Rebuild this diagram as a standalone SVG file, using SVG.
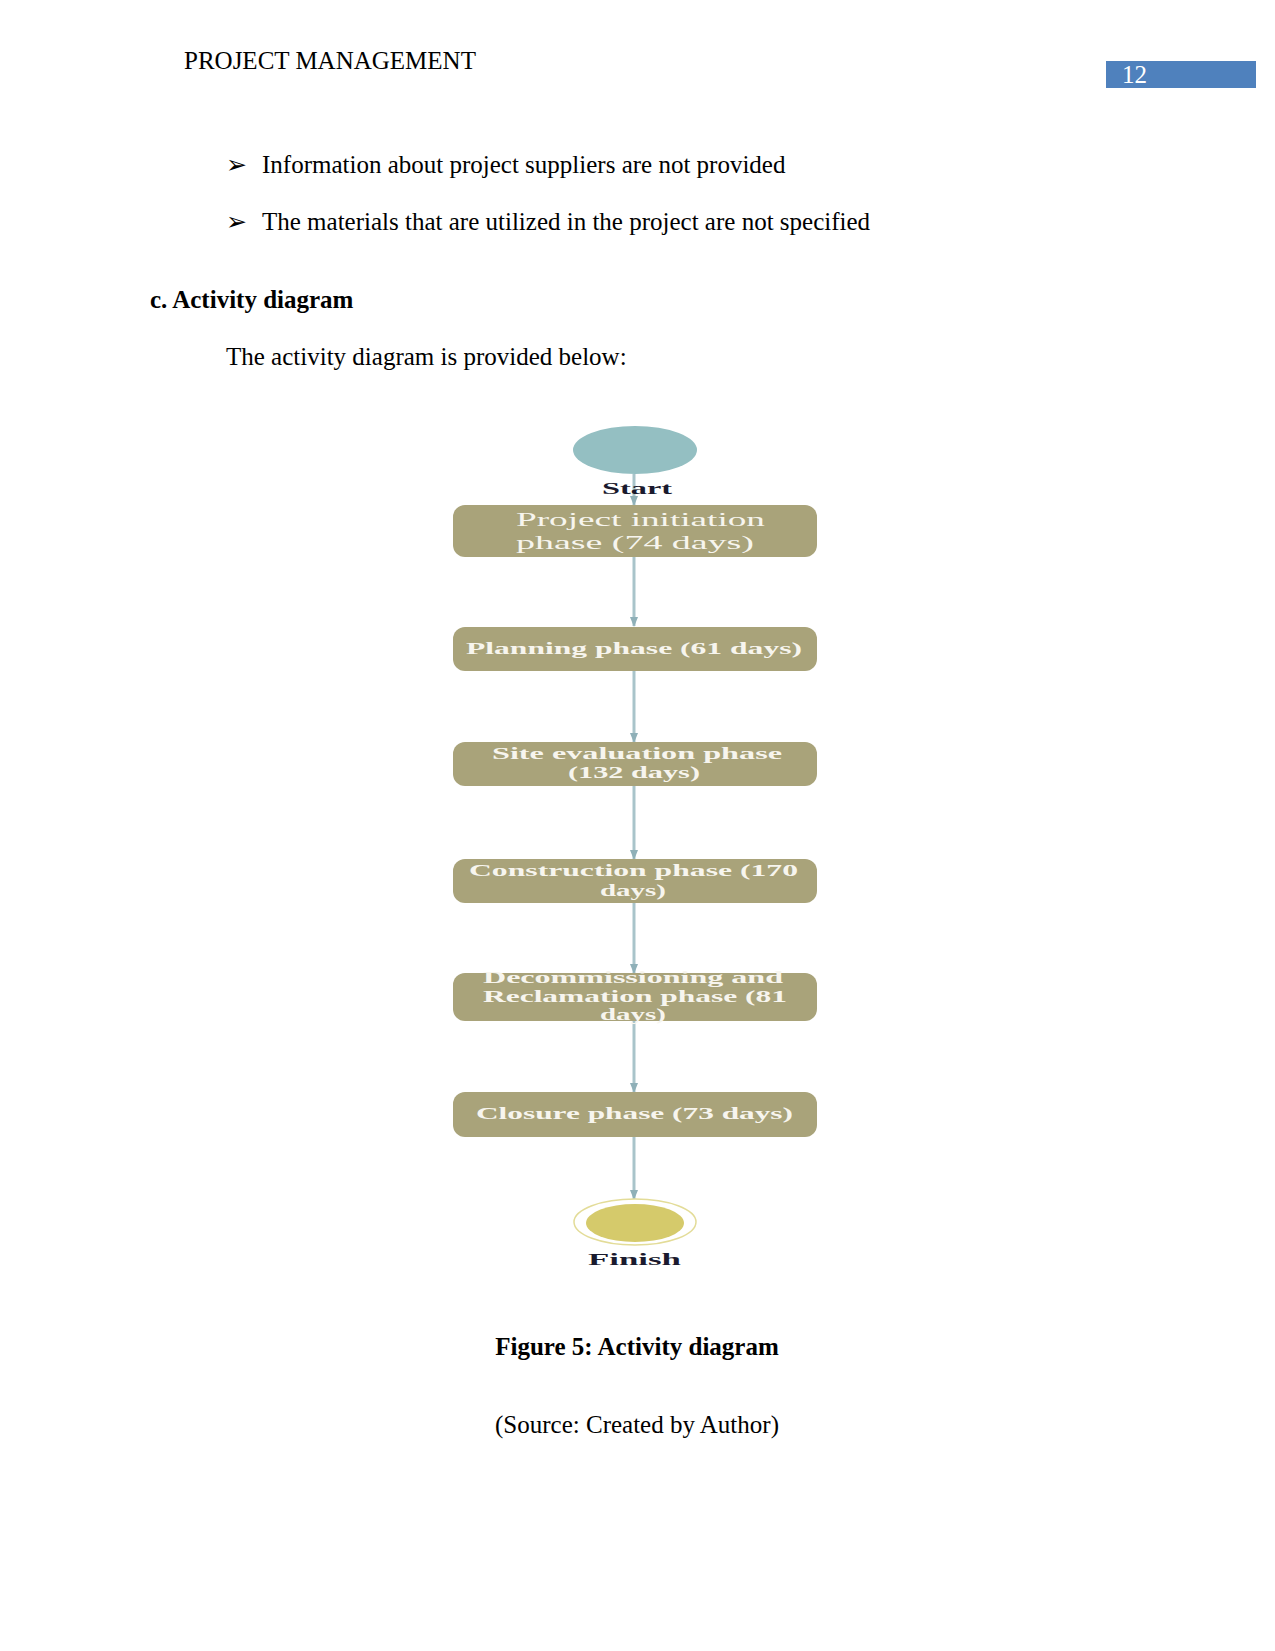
<svg xmlns="http://www.w3.org/2000/svg" width="1275" height="1651" viewBox="0 0 1275 1651">
<style>
.body{font-family:"Liberation Serif","Times New Roman",serif;font-size:25px;fill:#000}
.bold{font-weight:bold}
.box{fill:#a9a37a}
.bt{font-family:"Liberation Serif","Times New Roman",serif;font-size:17px;font-weight:bold;fill:#f7f5ee}
.bt1{font-family:"Liberation Serif","Times New Roman",serif;font-size:19px;fill:#f7f5ee}
.lab{font-family:"Liberation Serif","Times New Roman",serif;font-size:17px;font-weight:bold;fill:#1a1a2e}
.conn{stroke:#a9c4ca;stroke-width:3;fill:none}
</style>
<defs>
<marker id="ah" markerWidth="10" markerHeight="8" refX="9" refY="4" orient="auto" markerUnits="userSpaceOnUse">
<path d="M0,0 L10,4 L0,8 Z" fill="#8fb0b8"/>
</marker>
</defs>
<rect width="1275" height="1651" fill="#fff"/>
<g id="header">
<text class="body" x="184" y="69">PROJECT MANAGEMENT</text>
<rect x="1106" y="61" width="150" height="27" fill="#4f81bd"/>
<text class="body" x="1122" y="83" fill="#fff" style="fill:#fff">12</text>
</g>
<g id="text">
<text class="body" x="226" y="173">➢</text>
<text class="body" x="262" y="173">Information about project suppliers are not provided</text>
<text class="body" x="226" y="230">➢</text>
<text class="body" x="262" y="230">The materials that are utilized in the project are not specified</text>
<text class="body bold" x="150" y="308">c. Activity diagram</text>
<text class="body" x="226" y="365">The activity diagram is provided below:</text>
</g>
<g id="connectors">
<line class="conn" x1="634" y1="474" x2="634" y2="505" marker-end="url(#ah)"/>
<line class="conn" x1="634" y1="557" x2="634" y2="626" marker-end="url(#ah)"/>
<line class="conn" x1="634" y1="671" x2="634" y2="742" marker-end="url(#ah)"/>
<line class="conn" x1="634" y1="786" x2="634" y2="859" marker-end="url(#ah)"/>
<line class="conn" x1="634" y1="903" x2="634" y2="973" marker-end="url(#ah)"/>
<line class="conn" x1="634" y1="1021" x2="634" y2="1092" marker-end="url(#ah)"/>
<line class="conn" x1="634" y1="1137" x2="634" y2="1199" marker-end="url(#ah)"/>
</g>
<g id="start">
<ellipse cx="635" cy="450" rx="62" ry="24" fill="#94bfc2"/>
<text class="lab" x="602" y="494" textLength="70" lengthAdjust="spacingAndGlyphs">Start</text>
</g>
<g id="n1">
<rect class="box" x="453" y="505" width="364" height="52" rx="12"/>
<text class="bt1" x="516" y="526" textLength="249" lengthAdjust="spacingAndGlyphs">Project initiation</text>
<text class="bt1" x="516" y="549" textLength="238" lengthAdjust="spacingAndGlyphs">phase (74 days)</text>
</g>
<g id="n2">
<rect class="box" x="453" y="627" width="364" height="44" rx="12"/>
<text class="bt" x="466" y="654" textLength="336" lengthAdjust="spacingAndGlyphs">Planning phase (61 days)</text>
</g>
<g id="n3">
<rect class="box" x="453" y="742" width="364" height="44" rx="12"/>
<text class="bt" x="492" y="759" textLength="290" lengthAdjust="spacingAndGlyphs">Site evaluation phase</text>
<text class="bt" x="568" y="778" textLength="132" lengthAdjust="spacingAndGlyphs">(132 days)</text>
</g>
<g id="n4">
<rect class="box" x="453" y="859" width="364" height="44" rx="12"/>
<text class="bt" x="469" y="876" textLength="329" lengthAdjust="spacingAndGlyphs">Construction phase (170</text>
<text class="bt" x="600" y="896" textLength="66" lengthAdjust="spacingAndGlyphs">days)</text>
</g>
<g id="n5">
<rect class="box" x="453" y="973" width="364" height="48" rx="12"/>
<text class="bt" x="483" y="983" textLength="300" lengthAdjust="spacingAndGlyphs">Decommissioning and</text>
<text class="bt" x="483" y="1002" textLength="304" lengthAdjust="spacingAndGlyphs">Reclamation phase (81</text>
<text class="bt" x="600" y="1020" textLength="66" lengthAdjust="spacingAndGlyphs">days)</text>
</g>
<g id="n6">
<rect class="box" x="453" y="1092" width="364" height="45" rx="12"/>
<text class="bt" x="476" y="1119" textLength="317" lengthAdjust="spacingAndGlyphs">Closure phase (73 days)</text>
</g>
<g id="finish">
<ellipse cx="635" cy="1222" rx="61" ry="23" fill="#fff" stroke="#e3dc98" stroke-width="1.5"/>
<ellipse cx="635" cy="1223" rx="49" ry="19" fill="#d5ca6b"/>
<text class="lab" x="588" y="1265" textLength="93" lengthAdjust="spacingAndGlyphs">Finish</text>
</g>
<g id="caption">
<text class="body bold" x="637" y="1355" text-anchor="middle">Figure 5: Activity diagram</text>
<text class="body" x="637" y="1433" text-anchor="middle">(Source: Created by Author)</text>
</g>
</svg>
